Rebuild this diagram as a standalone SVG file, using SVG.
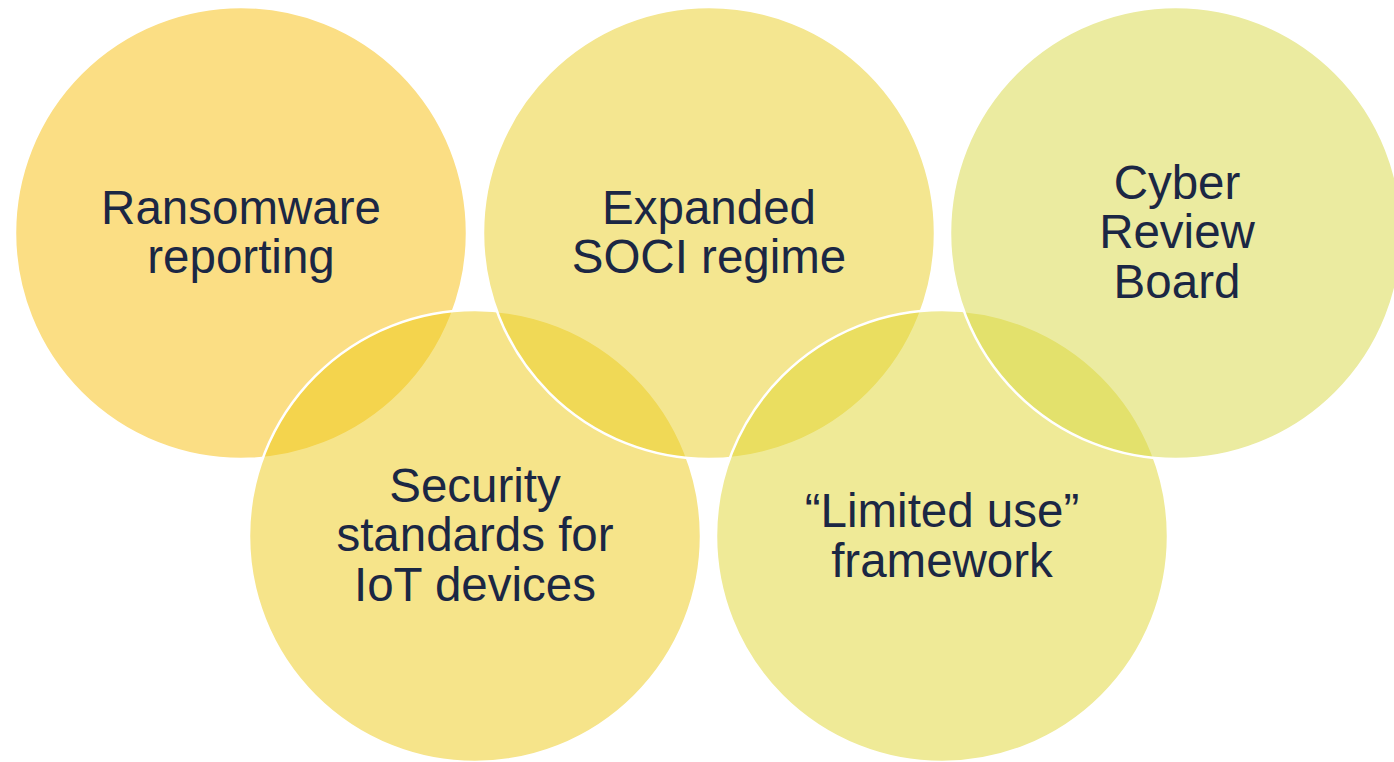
<svg xmlns="http://www.w3.org/2000/svg" width="1394" height="762" viewBox="0 0 1394 762">
<style>
.c{stroke:#FFFFFF;stroke-width:2.5;fill-opacity:0.5}
.t{font-family:"Liberation Sans",Arial,sans-serif;font-size:47.5px;fill:#1B2744;text-anchor:middle}
</style>
<rect width="1394" height="762" fill="#FFFFFF"/>
<g id="connectors"/>
<g id="n1"><circle class="c" cx="241" cy="233" r="226" fill="#F7BD09"/></g>
<g id="n4"><circle class="c" cx="475" cy="536" r="226" fill="#EDC915"/></g>
<g id="n2"><circle class="c" cx="709" cy="233" r="226" fill="#E9CD21"/></g>
<g id="n5"><circle class="c" cx="942" cy="536" r="226" fill="#DFD52F"/></g>
<g id="n3"><circle class="c" cx="1176" cy="233" r="226" fill="#D7D741"/></g>
<g id="labels">
<text class="t" x="241" y="224">Ransomware</text>
<text class="t" x="241" y="273">reporting</text>
<text class="t" x="709" y="224">Expanded</text>
<text class="t" x="709" y="273">SOCI regime</text>
<text class="t" x="1177" y="199">Cyber</text>
<text class="t" x="1177" y="248">Review</text>
<text class="t" x="1177" y="298">Board</text>
<text class="t" x="475" y="502">Security</text>
<text class="t" x="475" y="551">standards for</text>
<text class="t" x="475" y="601">IoT devices</text>
<text class="t" x="942" y="527">“Limited use”</text>
<text class="t" x="942" y="577">framework</text>
</g>
</svg>
